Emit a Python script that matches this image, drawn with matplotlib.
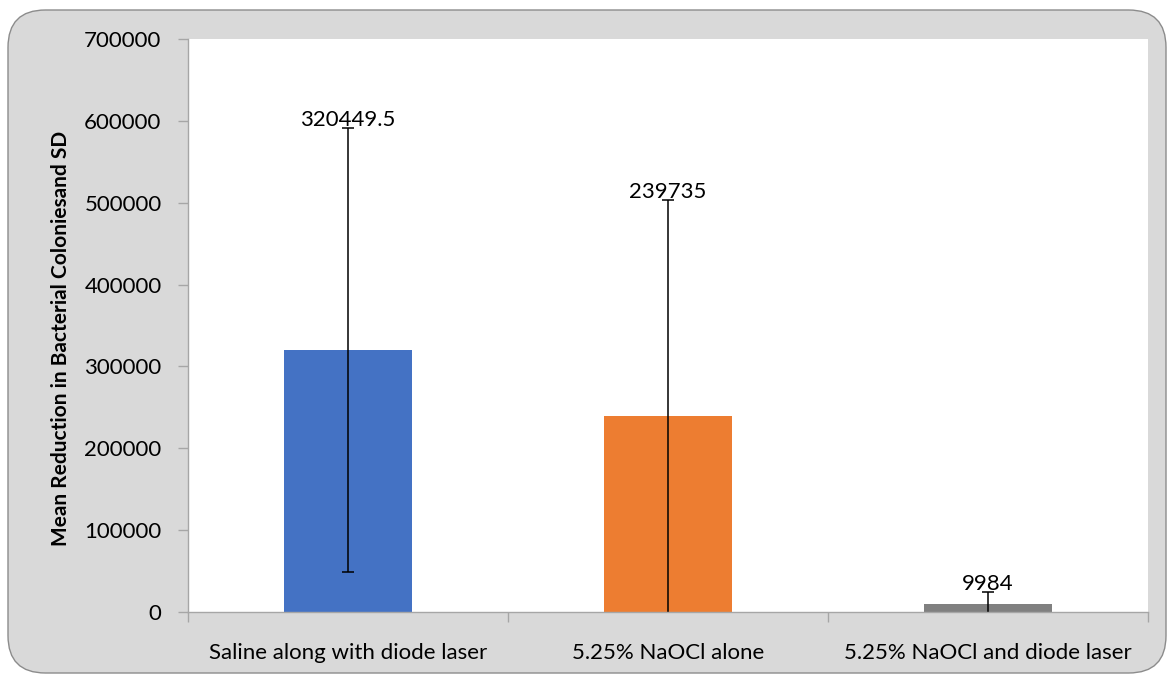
import matplotlib
matplotlib.use("Agg")
import matplotlib.pyplot as plt
from matplotlib.patches import FancyBboxPatch

categories = ["Saline along with diode laser", "5.25% NaOCl alone", "5.25% NaOCl and diode laser"]
means = [320449.5, 239735, 9984]
sds = [271000, 263600, 14500]
labels = ["320449.5", "239735", "9984"]
colors = ["#4472C4", "#ED7D31", "#808080"]
yticks = [0, 100000, 200000, 300000, 400000, 500000, 600000, 700000]

plt.rcParams['font.family'] = ['Lato', 'DejaVu Sans']

fig = plt.figure(figsize=(11.68, 6.75), dpi=100)
fig.patch.set_facecolor("white")
W, H = 1168, 675
bg = FancyBboxPatch((8 / W, 2 / H), (1166 - 8) / W, (665 - 2) / H,
                    boxstyle="round,pad=0,rounding_size=0.032",
                    transform=fig.transFigure, facecolor="#d9d9d9",
                    edgecolor="#8c8c8c", linewidth=1.0, mutation_aspect=W / H,
                    zorder=-10)
fig.patches.append(bg)

ax = fig.add_axes([188 / W, 1 - 612 / H, (1148 - 188) / W, (612 - 39) / H], zorder=1)
ax.set_facecolor("white")
x = list(range(len(categories)))
ax.bar(x, means, width=0.40, color=colors, zorder=2)

tops = [m + s for m, s in zip(means, sds)]
bottoms = [max(m - s, 0) for m, s in zip(means, sds)]
ax.vlines(x, bottoms, tops, color="black", linewidth=1.1, zorder=3)
ax.plot(x, tops, linestyle="none", marker="_", markersize=9,
        markeredgewidth=1.1, color="black", zorder=3)
for xi, b in zip(x, bottoms):
    if b > 0:
        ax.plot([xi], [b], linestyle="none", marker="_", markersize=9,
                markeredgewidth=1.1, color="black", zorder=3)

for xi, t, lab in zip(x, tops, labels):
    ax.annotate(lab, (xi, t), xytext=(0, -1.5), textcoords="offset points",
                ha="center", va="bottom", fontsize=16, color="black", zorder=4)

ax.set_xlim(-0.5, 2.5)
ax.set_ylim(0, 700000)
ax.set_yticks(yticks)
ax.set_yticklabels([str(t) for t in yticks], fontsize=16)
ax.set_xticks(x)
ax.set_xticklabels(categories, fontsize=16)
ax.set_xticks([-0.5, 0.5, 1.5, 2.5], minor=True)
ax.tick_params(axis="x", which="major", length=0, pad=22)
ax.tick_params(axis="x", which="minor", length=7, color="#a6a6a6", width=1)
ax.tick_params(axis="y", length=7, color="#a6a6a6", width=1, pad=12)
for side in ["top", "right"]:
    ax.spines[side].set_visible(False)
for side in ["left", "bottom"]:
    ax.spines[side].set_color("#a6a6a6")
    ax.spines[side].set_linewidth(1.0)
    ax.spines[side].set_zorder(5)
ax.set_ylabel("Mean Reduction in Bacterial Coloniesand SD", fontsize=15,
              fontweight="bold")
ax.yaxis.set_label_coords(-0.122, 0.478)

fig.savefig("out.png", dpi=100)
